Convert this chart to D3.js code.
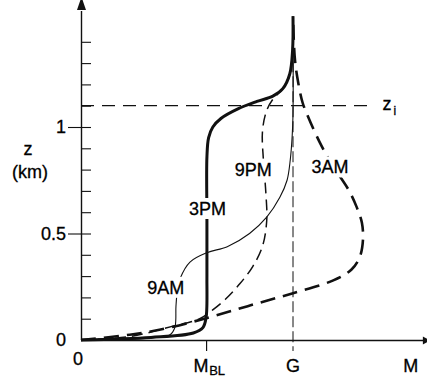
<!DOCTYPE html>
<html>
<head>
<meta charset="utf-8">
<script src="https://cdn.jsdelivr.net/npm/d3@7/dist/d3.min.js"></script>
<style>
  html, body { margin: 0; padding: 0; background: #fff; }
  svg { display: block; }
  text { font-family: "Liberation Sans", Arial, sans-serif; fill: #000; stroke: #000; stroke-width: 0.3px; }
</style>
</head>
<body>
<svg id="chart" width="427" height="377"></svg>
<script>
// Wind-speed profiles M(z) through the diurnal cycle, M in units of the geostrophic speed G
const profile3PM = [
  [0, 0], [0.33, 0.012], [0.53, 0.033], [0.575, 0.058], [0.59, 0.105],
  [0.594, 0.30], [0.594, 0.56], [0.594, 0.86], [0.602, 0.95], [0.622, 1.0],
  [0.66, 1.04], [0.74, 1.085], [0.83, 1.12], [0.905, 1.145], [0.952, 1.18],
  [0.985, 1.25], [0.998, 1.36], [1.0, 1.52]
];
const profile9PM = [
  [0, 0], [0.23, 0.016], [0.43, 0.064], [0.56, 0.1], [0.62, 0.14],
  [0.68, 0.19], [0.75, 0.265], [0.81, 0.345], [0.856, 0.44], [0.876, 0.56],
  [0.872, 0.69], [0.86, 0.85], [0.856, 0.98], [0.875, 1.075], [0.905, 1.13],
  [0.952, 1.18], [0.985, 1.25], [0.998, 1.36], [1.0, 1.52]
];
const profile3AM = [
  [0, 0], [0.23, 0.025], [0.37, 0.048], [0.594, 0.103], [0.80, 0.163],
  [1.0, 0.22], [1.19, 0.28], [1.275, 0.33], [1.315, 0.39], [1.33, 0.47],
  [1.325, 0.55], [1.30, 0.625], [1.265, 0.70], [1.18, 0.83], [1.125, 0.93],
  [1.068, 1.056], [1.045, 1.115], [1.02, 1.235], [1.008, 1.33], [1.0, 1.52]
];
const profile9AM = [
  [0, 0], [0.33, 0.01], [0.42, 0.025], [0.443, 0.06], [0.448, 0.16],
  [0.455, 0.235], [0.468, 0.29], [0.514, 0.366], [0.594, 0.41], [0.69, 0.438],
  [0.795, 0.50], [0.877, 0.578], [0.938, 0.67], [0.972, 0.75], [0.987, 0.845],
  [0.996, 0.955], [1.0, 1.06], [1.0, 1.52]
];

const zTicks = [0.1, 0.2, 0.3, 0.4, 0.5, 0.6, 0.7, 0.8, 0.9, 1.0, 1.1, 1.2, 1.3, 1.4];
const zLabels = [0, 0.5, 1];
const zInversion = 1.1;
const mBL = 0.59;
const gValue = 1.0;

// Curve labels: [text, M, z]
const curveLabels = [
  ["3PM", 0.597, 0.615],
  ["9PM", 0.812, 0.8],
  ["3AM", 1.175, 0.81],
  ["9AM", 0.40, 0.245]
];

const svg = d3.select("#chart");
const x = d3.scaleLinear().domain([0, 1]).range([81, 293]);
const y = d3.scaleLinear().domain([0, 1]).range([340, 127]);
const xMax = 1.622, zMax = 1.545;
const fontSize = 18;

const line = d3.line()
  .x(d => x(d[0])).y(d => y(d[1]))
  .curve(d3.curveCatmullRom.alpha(0.5));

// Reference lines: G and the inversion height z_i
svg.append("line")
  .attr("x1", x(gValue)).attr("x2", x(gValue))
  .attr("y1", y(1.52)).attr("y2", y(0) + 11)
  .attr("stroke", "#111").attr("stroke-width", 1)
  .attr("stroke-dasharray", "11,4");
svg.append("line")
  .attr("x1", x(0)).attr("x2", x(1.37))
  .attr("y1", y(zInversion)).attr("y2", y(zInversion))
  .attr("stroke", "#111").attr("stroke-width", 1.2)
  .attr("stroke-dasharray", "13,8");
svg.append("text").attr("x", x(1.422)).attr("y", y(zInversion) + 4)
  .style("font-size", fontSize + "px").text("z");
svg.append("text").attr("x", x(1.474)).attr("y", y(zInversion) + 9)
  .style("font-size", "12px").text("i");

// Axes
const yAxis = d3.axisRight(y).tickValues(zTicks).tickSize(10).tickFormat("").tickSizeOuter(0);
svg.append("g").attr("transform", `translate(${x(0)},0)`).call(yAxis)
  .call(g => g.select(".domain").attr("d", `M0.5,${y(0)}V${y(zMax)}`))
  .selectAll("line").attr("stroke", "#111").attr("stroke-width", 1.1);
const yAxisLab = d3.axisLeft(y).tickValues(zLabels.filter(v => v > 0)).tickSize(13).tickFormat("");
svg.append("g").attr("transform", `translate(${x(0)},0)`).call(yAxisLab)
  .call(g => g.select(".domain").remove())
  .selectAll("line").attr("stroke", "#111").attr("stroke-width", 1.1);
svg.selectAll(".domain").attr("stroke", "#111").attr("stroke-width", 1.4);

const xAxis = d3.axisBottom(x).tickValues([mBL]).tickSize(11).tickFormat("").tickSizeOuter(0);
svg.append("g").attr("transform", `translate(0,${y(0)})`).call(xAxis)
  .call(g => g.select(".domain").attr("d", `M${x(0)},0.5H${x(xMax)}`).attr("stroke", "#111").attr("stroke-width", 1.4))
  .selectAll("line").attr("stroke", "#111").attr("stroke-width", 1.2);

// Arrowheads
svg.append("path")
  .attr("d", `M${x(0) + 0.5},${y(zMax) - 14}L${x(0) - 4},${y(zMax) - 1}L${x(0) + 5},${y(zMax) - 1}Z`)
  .attr("fill", "#111");
svg.append("path")
  .attr("d", `M${x(xMax) + 5},${y(0) + 0.5}L${x(xMax) - 2},${y(0) - 3.5}L${x(xMax) - 2},${y(0) + 4.5}Z`)
  .attr("fill", "#111");

// Axis labels
const axisText = (t, px, py, size, anchor) => svg.append("text")
  .attr("x", px).attr("y", py).attr("text-anchor", anchor || "middle")
  .style("font-size", size + "px").text(t);
zLabels.forEach(v => axisText(v === 0 ? "0" : String(v), x(0) - 15, y(v) + 6, fontSize, "end"));
axisText("0", x(0) - 3, 365, fontSize);
axisText("G", x(gValue), 372, fontSize);
axisText("M", x(1.555), 372, fontSize);
axisText("M", x(mBL) - 5, 372, fontSize);
axisText("BL", x(mBL) + 11, 375, 13);
axisText("z", 28, 155, fontSize);
axisText("(km)", 30, 178, fontSize);

// Profiles
svg.append("path").datum(profile3AM).attr("d", line)
  .attr("fill", "none").attr("stroke", "#111").attr("stroke-width", 2.6)
  .attr("stroke-dasharray", "15,8");
svg.append("path").datum(profile9PM).attr("d", line)
  .attr("fill", "none").attr("stroke", "#111").attr("stroke-width", 1.5)
  .attr("stroke-dasharray", "11,6");
svg.append("path").datum(profile9AM).attr("d", line)
  .attr("fill", "none").attr("stroke", "#111").attr("stroke-width", 1.1);
svg.append("path").datum(profile3PM).attr("d", line)
  .attr("fill", "none").attr("stroke", "#111").attr("stroke-width", 3)
  .attr("stroke-linejoin", "round");

// Time labels on a white ground so they sit in the curves
curveLabels.forEach(([t, m, z]) => {
  const g = svg.append("g").attr("transform", `translate(${x(m)},${y(z)})`);
  const txt = g.append("text").attr("text-anchor", "middle").attr("y", 6)
    .style("font-size", fontSize + "px").text(t);
  const bb = txt.node().getBBox();
  g.insert("rect", "text")
    .attr("x", bb.x - 1).attr("y", bb.y - 1)
    .attr("width", bb.width + 2).attr("height", bb.height + 1)
    .attr("fill", "#fff").attr("stroke", "none");
});
</script>
</body>
</html>
